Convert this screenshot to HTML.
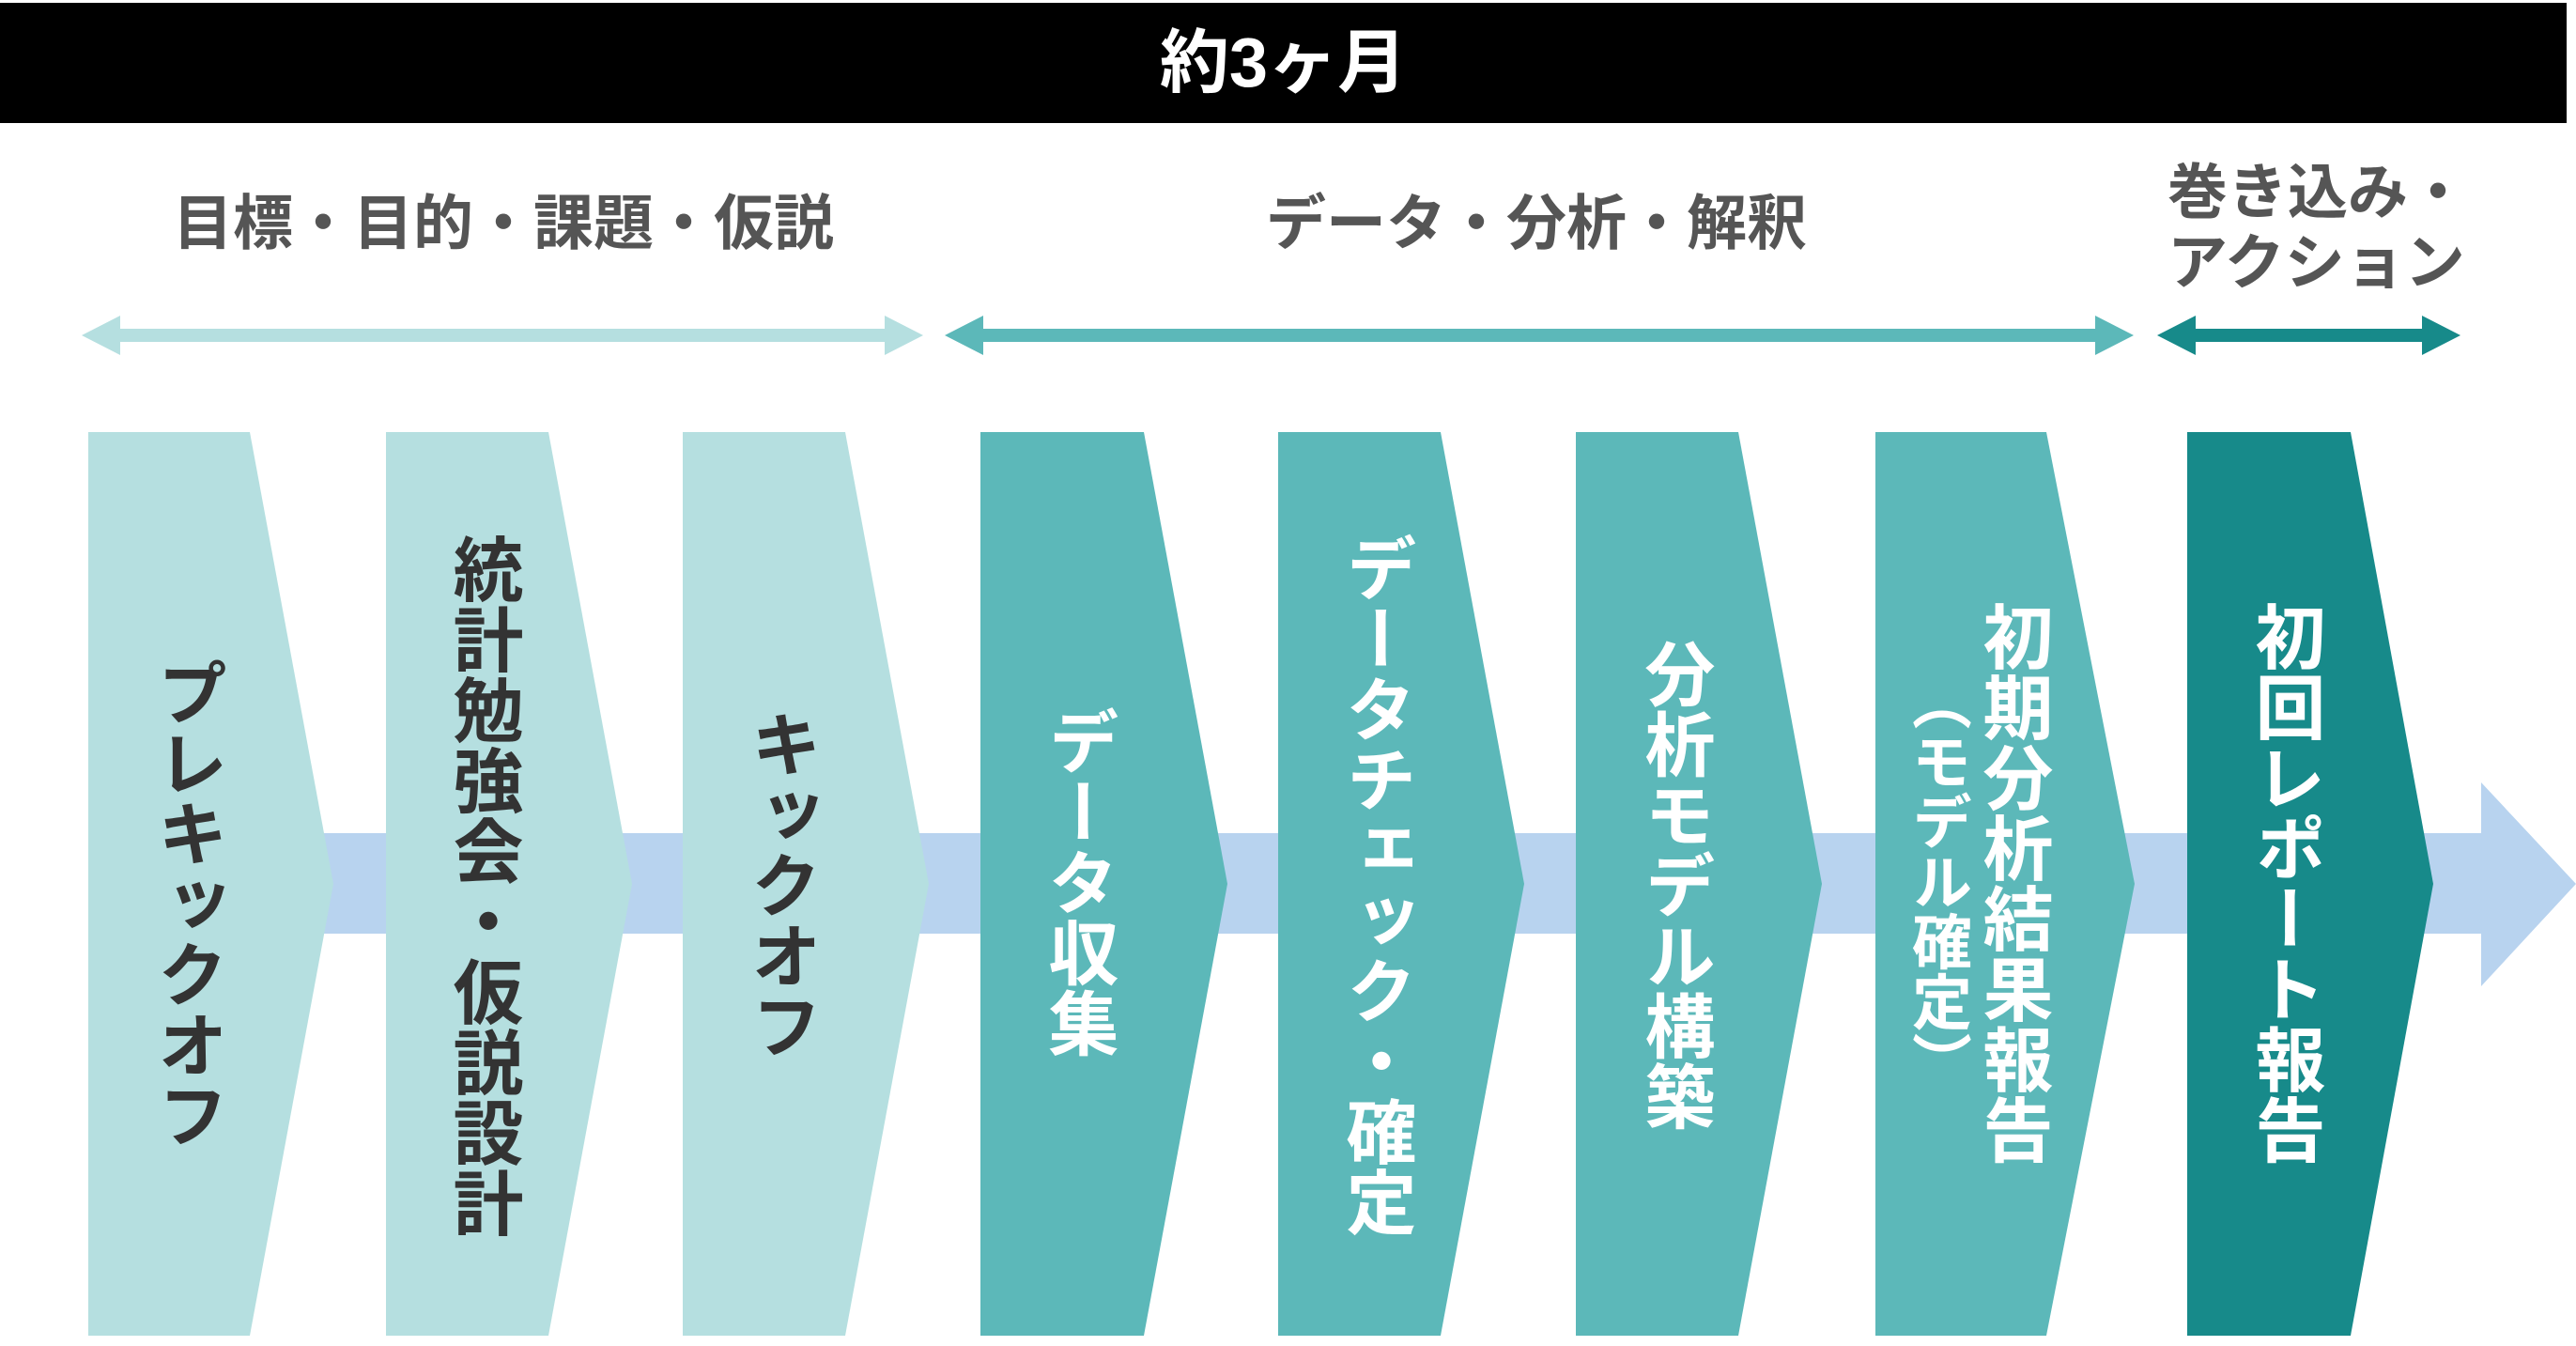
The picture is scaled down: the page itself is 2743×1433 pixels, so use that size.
<!DOCTYPE html>
<html><head><meta charset="utf-8"><style>
html,body{margin:0;padding:0;background:#fff;}
body{width:2743px;height:1433px;position:relative;overflow:hidden;font-family:"Liberation Sans","Noto Sans CJK JP",sans-serif;font-weight:bold;}
.v{position:absolute;writing-mode:vertical-rl;font-size:75px;line-height:1;transform:translate(-50%,-50%);top:942px;white-space:nowrap;font-family:"Noto Sans CJK JP",sans-serif;font-weight:bold;}
.d{color:#333;}
.w{color:#fff;}
.h{position:absolute;color:#555;font-size:64px;line-height:1;white-space:nowrap;font-family:"Noto Sans CJK JP",sans-serif;font-weight:bold;}
</style></head><body>
<svg width="2743" height="1433" style="position:absolute;left:0;top:0">
<rect x="0" y="3" width="2733" height="128" fill="#000"/>
<rect x="340" y="887" width="2310" height="107" fill="#b8d3ef"/>
<polygon points="2642,833 2743,941 2642,1050" fill="#b8d3ef"/>
<g fill="#b5dfe0"><rect x="125" y="350" width="820" height="14"/><polygon points="87,357 128,336 128,378"/><polygon points="983,357 942,336 942,378"/></g>
<g fill="#5cb8b9"><rect x="1044" y="350" width="1190" height="14"/><polygon points="1006,357 1047,336 1047,378"/><polygon points="2272,357 2231,336 2231,378"/></g>
<g fill="#178a8a"><rect x="2335" y="350" width="247" height="14"/><polygon points="2297,357 2338,336 2338,378"/><polygon points="2620,357 2579,336 2579,378"/></g>
<polygon points="94,460 266,460 355,941 266,1422 94,1422" fill="#b5dfe0"/>
<polygon points="411,460 584,460 673,941 584,1422 411,1422" fill="#b5dfe0"/>
<polygon points="727,460 900,460 989,941 900,1422 727,1422" fill="#b5dfe0"/>
<polygon points="1044,460 1218,460 1307,941 1218,1422 1044,1422" fill="#5cb8b9"/>
<polygon points="1361,460 1534,460 1623,941 1534,1422 1361,1422" fill="#5cb8b9"/>
<polygon points="1678,460 1851,460 1940,941 1851,1422 1678,1422" fill="#5cb8b9"/>
<polygon points="1997,460 2179,460 2273,941 2179,1422 1997,1422" fill="#5cb8b9"/>
<polygon points="2329,460 2503,460 2591,941 2503,1422 2329,1422" fill="#178a8a"/>
</svg>
<div style="position:absolute;left:0;top:3px;width:2733px;height:128px;line-height:128px;text-align:center;color:#fff;font-size:74px;font-family:'Liberation Sans','Noto Sans CJK JP',sans-serif;">約3ヶ月</div>
<div class="h" style="left:536px;top:201px;transform:translateX(-50%)">目標・目的・課題・仮説</div>
<div class="h" style="left:1636px;top:201px;transform:translateX(-50%)">データ・分析・解釈</div>
<div class="h" style="left:2308px;top:163px;line-height:75px">巻き込み・<br>アクション</div>

<div class="v d" style="left:205px;top:962px">プレキックオフ</div>
<div class="v d" style="left:520px;top:943px">統計勉強会・仮説設計</div>
<div class="v d" style="left:837px">キックオフ</div>
<div class="v w" style="left:1154px;top:939px">データ収集</div>
<div class="v w" style="left:1471px">データチェック・確定</div>
<div class="v w" style="left:1789px">分析モデル構築</div>
<div class="v w" style="left:2149px;top:940px">初期分析結果報告</div>
<div class="v w" style="left:2068px;top:938px;font-size:64px">（モデル確定）</div>
<div class="v w" style="left:2439px;top:940px">初回レポート報告</div>
</body></html>
